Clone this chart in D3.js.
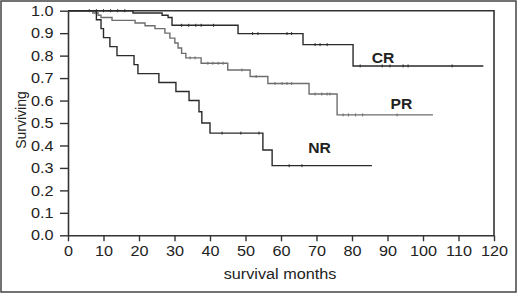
<!DOCTYPE html>
<html lang="en">
<head>
<meta charset="UTF-8">
<title>Survival by response</title>
<script src="https://d3js.org/d3.v7.min.js"></script>
<style>
  body { margin: 0; background: #fff; }
  text { font-family: "Liberation Sans", Arial, sans-serif; fill: #222; }
</style>
</head>
<body>
<script>
// Kaplan-Meier steps (months, surviving fraction)
var crTimes = [18.3, 26.5, 28.2, 29.3, 47.9, 66.2, 80.3];
var crSurv  = [0.99, 0.98, 0.97, 0.935, 0.898, 0.849, 0.754];
var crEnd = 117;
var crCensor = [6, 8, 10, 12, 14, 16, 32, 34, 36, 37.5, 41, 52, 53.5, 61.7, 63,
                69.6, 71, 73, 82.3, 88.5, 90.7, 94.4, 95.8, 108.2];

var prTimes = [7, 8.5, 9.3, 12.4, 18.9, 21.7, 24.5, 27.3, 28.7, 30.1, 31, 32, 33.2,
               37.5, 45, 51.3, 56.3, 67.9, 75.8];
var prSurv  = [0.99, 0.98, 0.97, 0.957, 0.945, 0.933, 0.92, 0.90, 0.878, 0.856, 0.834,
               0.81, 0.79, 0.766, 0.736, 0.707, 0.676, 0.629, 0.536];
var prEnd = 102.8;
var prCensor = [34.4, 35.8, 39.4, 40.8, 42.3, 43.7, 49, 53, 58.3, 60.3, 61.7, 63,
                69.6, 71.5, 73, 73.8, 77.5, 79, 81, 83, 92.7];

var nrTimes = [8, 9.3, 10, 11.8, 13.8, 18.6, 19.7, 25.6, 30.4, 34.1, 36.9, 37.7, 40, 54.9, 57.5];
var nrSurv  = [0.96, 0.92, 0.88, 0.84, 0.80, 0.76, 0.72, 0.68, 0.64, 0.60, 0.55, 0.50, 0.455, 0.38, 0.31];
var nrEnd = 85.6;
var nrCensor = [43.4, 48.7, 53.8, 62.3, 65.9];

var xTicks = d3.range(0, 121, 10);
var yTicks = d3.range(0, 11).map(function(d) { return d / 10; });

var w = 520, h = 296;
var sx = 1.12; // the original lettering is a bit wide

var svg = d3.select("body").append("svg")
    .attr("width", w)
    .attr("height", h);

svg.append("rect")
    .attr("x", 1).attr("y", 1)
    .attr("width", 515).attr("height", 291)
    .attr("fill", "none")
    .attr("stroke", "#444")
    .attr("stroke-width", 1.5);

var x = d3.scaleLinear().domain([0, 120]).range([68, 494]);
var y = d3.scaleLinear().domain([0, 1]).range([235.3, 10.7]);

// frame top and right
svg.append("path")
    .attr("d", "M" + x(0) + "," + y(1) + "H" + x(120) + "V" + y(0))
    .attr("fill", "none")
    .attr("stroke", "#333")
    .attr("stroke-width", 1.6);

var yAxis = svg.append("g")
    .attr("transform", "translate(" + x(0) + ",0)")
    .call(d3.axisLeft(y).tickValues(yTicks).tickFormat(d3.format(".1f"))
          .tickSize(8).tickPadding(5).tickSizeOuter(0));

var xAxis = svg.append("g")
    .attr("transform", "translate(0," + y(0) + ")")
    .call(d3.axisBottom(x).tickValues(xTicks).tickSize(6).tickPadding(4).tickSizeOuter(0));

[xAxis, yAxis].forEach(function(g) {
    g.select(".domain").attr("stroke", "#333").attr("stroke-width", 1.6);
    g.selectAll(".tick line").attr("stroke", "#333").attr("stroke-width", 1.4);
    g.selectAll(".tick text")
        .attr("font-size", 14.5)
        .attr("fill", "#222")
        .attr("font-family", "Liberation Sans, Arial, sans-serif");
});
xAxis.selectAll(".tick text").attr("transform", "scale(" + sx + ",1)");
yAxis.selectAll(".tick text").attr("transform", "scale(" + sx + ",1)");

svg.append("text")
    .attr("transform", "translate(280,279) scale(" + sx + ",1)")
    .attr("text-anchor", "middle")
    .attr("font-size", 14.5)
    .text("survival months");

svg.append("text")
    .attr("transform", "translate(26,120) rotate(-90)")
    .attr("text-anchor", "middle")
    .attr("font-size", 14)
    .text("Surviving");

function steps(times, surv, end) {
    var pts = [[0, 1]];
    times.forEach(function(t, i) { pts.push([t, surv[i]]); });
    pts.push([end, surv[surv.length - 1]]);
    return pts;
}

function survAt(times, surv, t) {
    var s = 1;
    times.forEach(function(tt, i) { if (tt <= t) s = surv[i]; });
    return s;
}

var line = d3.line()
    .x(function(d) { return x(d[0]); })
    .y(function(d) { return y(d[1]); })
    .curve(d3.curveStepAfter);

var groups = [
    { name: "CR", times: crTimes, surv: crSurv, end: crEnd, censor: crCensor, color: "#2a2a2a" },
    { name: "PR", times: prTimes, surv: prSurv, end: prEnd, censor: prCensor, color: "#6e6e6e" },
    { name: "NR", times: nrTimes, surv: nrSurv, end: nrEnd, censor: nrCensor, color: "#2a2a2a" }
];

groups.forEach(function(g) {
    svg.append("path")
        .datum(steps(g.times, g.surv, g.end))
        .attr("fill", "none")
        .attr("stroke", g.color)
        .attr("stroke-width", 1.4)
        .attr("d", line);

    svg.selectAll(null)
        .data(g.censor)
        .enter()
        .append("line")
        .attr("x1", function(d) { return x(d); })
        .attr("x2", function(d) { return x(d); })
        .attr("y1", function(d) { return y(survAt(g.times, g.surv, d)) - 1.5; })
        .attr("y2", function(d) { return y(survAt(g.times, g.surv, d)) + 1.5; })
        .attr("stroke", g.color)
        .attr("stroke-width", 1);
});

var labels = [
    { text: "CR", x: 383, y: 63 },
    { text: "PR", x: 401.5, y: 109 },
    { text: "NR", x: 319.5, y: 153 }
];

svg.selectAll(null)
    .data(labels)
    .enter()
    .append("text")
    .attr("transform", function(d) { return "translate(" + d.x + "," + d.y + ") scale(" + sx + ",1)"; })
    .attr("text-anchor", "middle")
    .attr("font-size", 14)
    .attr("font-weight", "bold")
    .text(function(d) { return d.text; });
</script>
</body>
</html>
